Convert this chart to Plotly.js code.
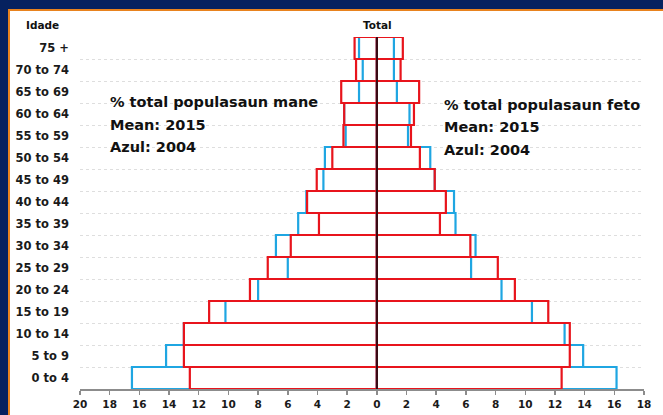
<!DOCTYPE html>
<html>
<head>
<meta charset="utf-8">
<script src="https://cdn.plot.ly/plotly-3.0.1.min.js"></script>
<style>
html,body{margin:0;padding:0;background:#06215f;}
#chart{width:663px;height:415px;}
</style>
</head>
<body>
<div id="chart"></div>
<script>
// Age groups, youngest (bottom) to oldest (top)
var ageGroups = ["0 to 4","5 to 9","10 to 14","15 to 19","20 to 24","25 to 29","30 to 34","35 to 39","40 to 44","45 to 49","50 to 54","55 to 59","60 to 64","65 to 69","70 to 74","75 +"];

// % of total population, male (mane)
var male2015 = [12.6, 13.0, 13.0, 11.3, 8.55, 7.35, 5.8, 3.9, 4.7, 4.05, 3.0, 2.25, 2.2, 2.4, 1.4, 1.5];
var male2004 = [16.5, 14.2, 13.0, 10.2, 8.0, 6.0, 6.8, 5.3, 4.75, 3.6, 3.5, 2.1, 2.2, 1.2, 0.95, 1.2];

// % of total population, female (feto)
var female2015 = [12.45, 13.0, 13.0, 11.55, 9.3, 8.15, 6.3, 4.25, 4.65, 3.9, 2.9, 2.3, 2.5, 2.85, 1.6, 1.75];
var female2004 = [16.15, 13.9, 12.65, 10.45, 8.4, 6.35, 6.65, 5.3, 5.2, 3.9, 3.6, 2.1, 2.2, 1.35, 1.15, 1.15];

// X axis ticks (absolute values shown on both sides)
var xTickVals = [-20,-18,-16,-14,-12,-10,-8,-6,-4,-2,0,2,4,6,8,10,12,14,16,18];
var xTickText = xTickVals.map(function(v){ return String(Math.abs(v)); });

var BLUE = "#1fa6e2";
var RED = "#e8141c";
var CLEAR = "rgba(0,0,0,0)";

function barTrace(vals, sign, color, name) {
  return {
    type: "bar",
    orientation: "h",
    name: name,
    y: ageGroups,
    x: vals.map(function(v){ return sign * v; }),
    marker: { color: CLEAR, line: { color: color, width: 2.2 } },
    width: 1,
    hoverinfo: "skip"
  };
}

var data = [
  barTrace(male2004, -1, BLUE, "mane 2004"),
  barTrace(female2004, 1, BLUE, "feto 2004"),
  barTrace(male2015, -1, RED, "mane 2015"),
  barTrace(female2015, 1, RED, "feto 2015")
];

var labelFont = { family: "DejaVu Sans", size: 14.5, color: "#111", weight: "bold" };

function note(text, x, y) {
  return { text: text, xref: "paper", yref: "paper", x: x, y: y,
           xanchor: "left", yanchor: "middle", showarrow: false, font: labelFont };
}

var layout = {
  width: 663, height: 415,
  margin: { l: 80, r: 19, t: 37, b: 26, pad: 0 },
  paper_bgcolor: "#06215f",
  plot_bgcolor: CLEAR,
  barmode: "overlay",
  bargap: 0,
  showlegend: false,
  xaxis: {
    range: [-20, 18],
    tickvals: xTickVals,
    ticktext: xTickText,
    ticks: "outside", ticklen: 4, tickwidth: 1.5, tickcolor: "#8c8c8c",
    showline: true, linecolor: "#8c8c8c", linewidth: 2,
    showgrid: false,
    zeroline: true, zerolinecolor: "#3a0a14", zerolinewidth: 2,
    zerolinelayer: "above traces",
    tickfont: { family: "DejaVu Sans", size: 10.5, color: "#1a1a1a", weight: "bold" },
    fixedrange: true
  },
  yaxis: {
    type: "category",
    range: [-0.5, 15.5],
    tickson: "boundaries",
    showgrid: true, gridcolor: "#dedede", gridwidth: 1, griddash: "dot",
    ticks: "", showline: false, zeroline: false,
    ticklabelstandoff: 10,
    tickfont: { family: "DejaVu Sans", size: 11.5, color: "#1a1a1a", weight: "bold" },
    fixedrange: true
  },
  shapes: [
    { type: "rect", xref: "paper", yref: "paper", layer: "below",
      x0: (9 - 80) / 564, x1: (680 - 80) / 564,
      y0: 1 - (430 - 37) / 352, y1: 1 - (10 - 37) / 352,
      fillcolor: "#ffffff", line: { color: "#e8821e", width: 2 } }
  ],
  annotations: [
    { text: "Idade", xref: "paper", yref: "paper", x: (24 - 80) / 564, y: 1 - (25 - 37) / 352,
      xanchor: "left", yanchor: "middle", showarrow: false,
      font: { family: "DejaVu Sans", size: 10.5, color: "#111", weight: "bold" } },
    { text: "Total", xref: "paper", yref: "paper", x: (377 - 80) / 564, y: 1 - (25 - 37) / 352,
      xanchor: "center", yanchor: "middle", showarrow: false,
      font: { family: "DejaVu Sans", size: 10.5, color: "#111", weight: "bold" } },
    note("% total populasaun mane", (108 - 80) / 564, 1 - (102 - 37) / 352),
    note("Mean: 2015", (108 - 80) / 564, 1 - (125 - 37) / 352),
    note("Azul: 2004", (108 - 80) / 564, 1 - (147 - 37) / 352),
    note("% total populasaun feto", (442 - 80) / 564, 1 - (105 - 37) / 352),
    note("Mean: 2015", (442 - 80) / 564, 1 - (127 - 37) / 352),
    note("Azul: 2004", (442 - 80) / 564, 1 - (150 - 37) / 352)
  ]
};

Plotly.newPlot("chart", data, layout, { displayModeBar: false, staticPlot: true });
</script>
</body>
</html>
